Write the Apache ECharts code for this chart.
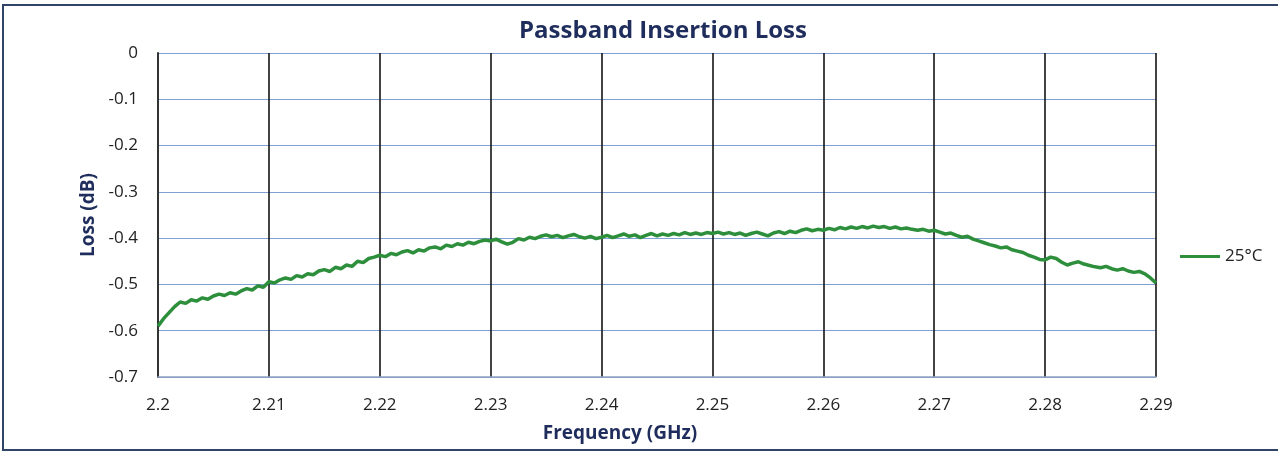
<!DOCTYPE html>
<html>
<head>
<meta charset="utf-8">
<script src="https://cdn.jsdelivr.net/npm/echarts@6/dist/echarts.min.js"></script>
<style>
html,body{margin:0;padding:0;background:#fff;}
#c{width:1278px;height:453px;}
</style>
</head>
<body>
<div id="c"></div>
<script>
const chartTitle = 'Passband Insertion Loss';
const xAxisName = 'Frequency (GHz)';
const yAxisName = 'Loss (dB)';
const seriesName = '25°C';
const freqStart = 2.2;
const freqStep = 0.0005;
const xTicks = ['2.2','2.21','2.22','2.23','2.24','2.25','2.26','2.27','2.28','2.29'];
const yTicks = ['0','-0.1','-0.2','-0.3','-0.4','-0.5','-0.6','-0.7'];
const loss25C = [
 -0.590,-0.574,-0.561,-0.548,-0.538,-0.541,-0.533,-0.536,-0.529,-0.532,
 -0.525,-0.521,-0.524,-0.518,-0.521,-0.514,-0.509,-0.512,-0.503,-0.506,
 -0.494,-0.497,-0.490,-0.486,-0.489,-0.481,-0.484,-0.477,-0.479,-0.471,
 -0.468,-0.472,-0.463,-0.466,-0.458,-0.461,-0.450,-0.453,-0.444,-0.441,
 -0.437,-0.440,-0.433,-0.436,-0.430,-0.427,-0.432,-0.425,-0.428,-0.421,
 -0.419,-0.423,-0.415,-0.418,-0.412,-0.415,-0.409,-0.412,-0.407,-0.404,
 -0.406,-0.402,-0.408,-0.413,-0.409,-0.401,-0.404,-0.398,-0.401,-0.396,
 -0.393,-0.397,-0.394,-0.399,-0.395,-0.392,-0.397,-0.400,-0.396,-0.401,
 -0.398,-0.394,-0.399,-0.395,-0.391,-0.396,-0.393,-0.399,-0.394,-0.390,
 -0.395,-0.391,-0.394,-0.390,-0.393,-0.388,-0.392,-0.389,-0.392,-0.388,
 -0.390,-0.387,-0.391,-0.388,-0.392,-0.389,-0.394,-0.390,-0.387,-0.391,
 -0.395,-0.389,-0.386,-0.390,-0.385,-0.388,-0.383,-0.380,-0.384,-0.381,
 -0.383,-0.379,-0.382,-0.377,-0.380,-0.376,-0.379,-0.375,-0.378,-0.374,
 -0.377,-0.375,-0.379,-0.376,-0.380,-0.378,-0.381,-0.383,-0.381,-0.385,
 -0.383,-0.387,-0.391,-0.389,-0.394,-0.398,-0.396,-0.402,-0.406,-0.410,
 -0.414,-0.417,-0.421,-0.419,-0.425,-0.428,-0.431,-0.437,-0.441,-0.446,
 -0.447,-0.441,-0.444,-0.452,-0.458,-0.454,-0.451,-0.456,-0.459,-0.462,
 -0.464,-0.461,-0.466,-0.469,-0.466,-0.471,-0.474,-0.472,-0.477,-0.486,
 -0.497
];
const seriesData = loss25C.map((v, i) => [+(freqStart + i * freqStep).toFixed(4), v]);

const navy = '#1f2d5c';
const chart = echarts.init(document.getElementById('c'));
chart.setOption({
  animation: false,
  backgroundColor: '#fff',
  title: {
    text: chartTitle,
    left: 658, top: 14, textAlign: 'center',
    textStyle: {fontFamily: 'Open Sans', fontWeight: 'bold', fontSize: 24, color: navy}
  },
  graphic: [{
    type: 'rect', silent: true, z: 100,
    shape: {x: 3, y: 5, width: 1310, height: 445},
    style: {fill: 'none', stroke: '#2f4466', lineWidth: 2}
  }],
  legend: {
    orient: 'vertical', left: 1175, top: 243,
    icon: 'rect', itemWidth: 40, itemHeight: 3, itemGap: 5,
    textStyle: {fontFamily: 'Open Sans', fontSize: 17, color: '#222'},
    data: [seriesName]
  },
  grid: {left: 158, right: 122, top: 53, bottom: 76, containLabel: false, outerBoundsMode: 'none'},
  xAxis: {
    type: 'value', min: 2.2, max: 2.29, interval: 0.01,
    name: xAxisName, nameLocation: 'middle', nameGap: 47,
    nameTextStyle: {fontFamily: 'Open Sans', fontWeight: 'bold', fontSize: 19, color: navy, padding: [0, 74, 0, 0]},
    axisLine: {show: true, onZero: false, lineStyle: {color: '#8fa3c0', width: 1.5}},
    axisTick: {show: false},
    axisLabel: {
      margin: 20, fontFamily: 'Open Sans', fontSize: 17, color: '#222',
      formatter: v => { const i = Math.round((v - 2.2) / 0.01); return xTicks[i] !== undefined ? xTicks[i] : ''; }
    },
    splitLine: {show: true, lineStyle: {color: '#151515', width: 1.6}}
  },
  yAxis: {
    type: 'value', min: -0.7, max: 0, interval: 0.1,
    name: yAxisName, nameLocation: 'middle', nameGap: 59, nameRotate: 90,
    nameTextStyle: {fontFamily: 'Open Sans', fontWeight: 'bold', fontSize: 19, color: navy},
    axisLine: {show: true, lineStyle: {color: '#333', width: 2}},
    axisTick: {show: false},
    axisLabel: {
      margin: 20, fontFamily: 'Open Sans', fontSize: 17, color: '#222',
      formatter: v => { const i = Math.round(-v / 0.1); return yTicks[i] !== undefined ? yTicks[i] : ''; }
    },
    splitLine: {show: true, lineStyle: {color: '#7f9fd5', width: 1}}
  },
  series: [{
    name: seriesName, type: 'line', data: seriesData,
    symbol: 'none', smooth: false,
    lineStyle: {color: '#2d8f3c', width: 3.5},
    itemStyle: {color: '#2d8f3c'}
  }]
});
</script>
</body>
</html>
